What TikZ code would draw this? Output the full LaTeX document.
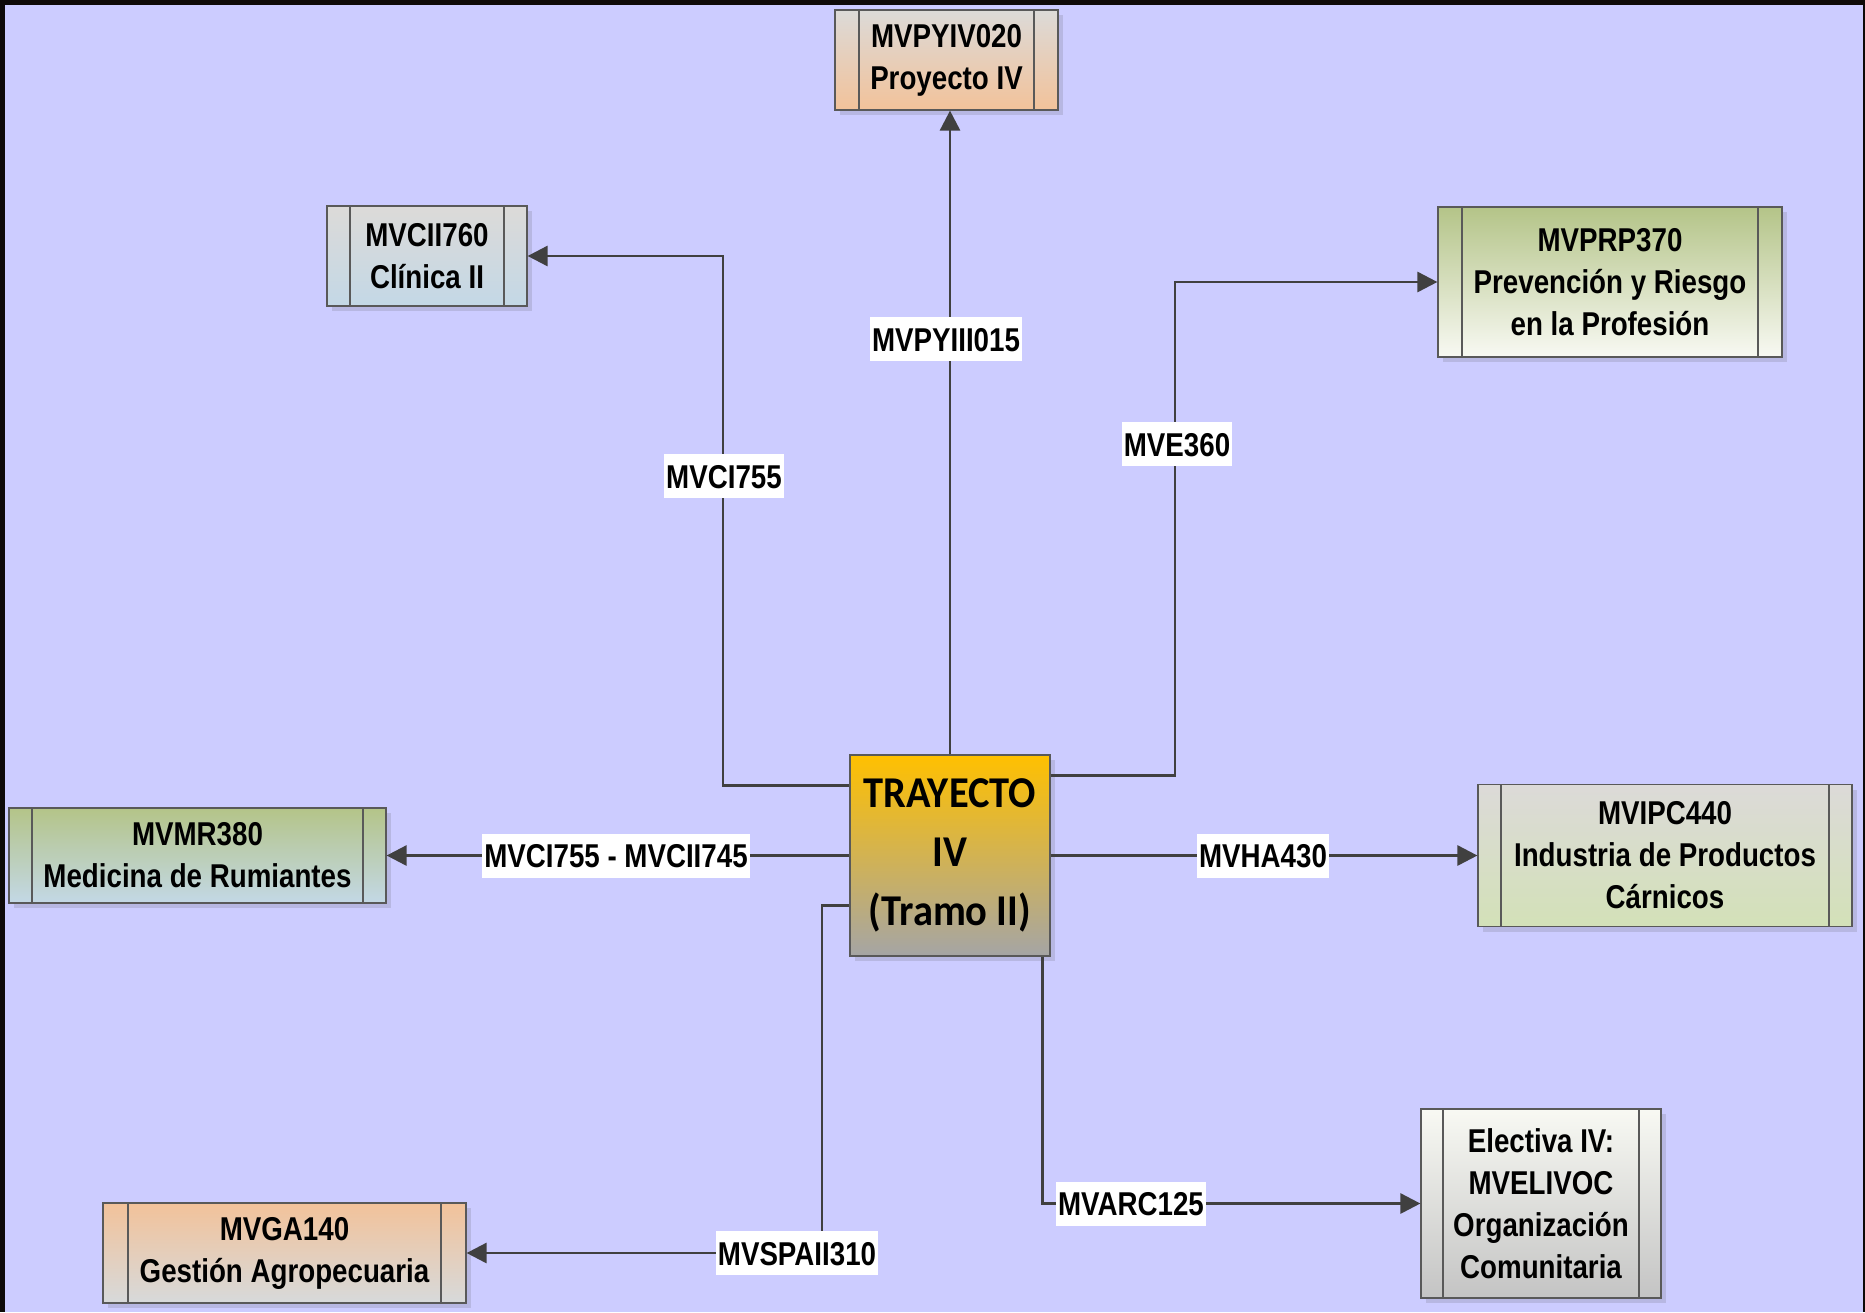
\documentclass[tikz,border=0pt]{standalone}
\usepackage{fontspec}
\setmainfont{Liberation Sans}[FakeStretch=0.84]
\newfontfamily\calib{Carlito}[FakeStretch=0.92]
\usetikzlibrary{shadows,arrows.meta,calc}
\definecolor{bgc}{HTML}{CCCCFF}
\definecolor{framec}{HTML}{0E0A08}
\definecolor{bordc}{HTML}{595959}
\definecolor{linec}{HTML}{404040}
\definecolor{shadc}{HTML}{B7B7E2}
\definecolor{peach}{HTML}{F2C29A}
\definecolor{lgrey}{HTML}{DCDAD8}
\definecolor{lblue}{HTML}{C3D8E6}
\definecolor{olive}{HTML}{B4C488}
\definecolor{offw}{HTML}{F8F9F3}
\definecolor{lgreen}{HTML}{D3E1B8}
\definecolor{midgrey}{HTML}{C4C4C4}
\definecolor{gold}{HTML}{FFC000}
\definecolor{dgrey}{HTML}{A5A5A5}
\tikzset{
  box/.style={draw=bordc, line width=1.2pt, rectangle, align=center,
    font=\bfseries\fontsize{33}{42}\selectfont, inner sep=0pt,
    drop shadow={shadow xshift=5pt, shadow yshift=-5pt, fill=shadc, opacity=1}},
  band/.style={path picture={
    \draw[bordc, line width=1.2pt] ([xshift=#1]path picture bounding box.north west) -- ([xshift=#1]path picture bounding box.south west);
    \draw[bordc, line width=1.2pt] ([xshift=-#1]path picture bounding box.north east) -- ([xshift=-#1]path picture bounding box.south east);}},
  conn/.style={draw=linec, line width=2.8pt, -{Triangle[length=20pt,width=20pt]}},
  lbl/.style={fill=white, font=\bfseries\fontsize{33}{36}\selectfont, inner xsep=2pt, inner ysep=10pt, text height=24pt, text depth=0pt}
}
\begin{document}
\begin{tikzpicture}[x=1pt,y=-1pt]
\useasboundingbox (0,0) rectangle (1865,1312);
\fill[framec] (0,0) rectangle (1865,1312);
\fill[bgc] (5,5) rectangle (1863,1312);

% boxes
\node[box, band=24pt, top color=lgrey, bottom color=peach, minimum width=223pt, minimum height=100pt] (p4) at (946.5,60) {MVPYIV020\\Proyecto IV};
\node[box, band=23pt, top color=lgrey, bottom color=lblue, minimum width=200pt, minimum height=100pt] (c2) at (427,256) {MVCII760\\Clínica II};
\node[box, band=24pt, top color=olive, bottom color=offw, minimum width=344pt, minimum height=150pt] (prp) at (1610,282) {MVPRP370\\Prevención y Riesgo\\en la Profesión};
\node[box, band=23pt, top color=olive, bottom color=lblue, minimum width=377pt, minimum height=95pt] (mr) at (197.5,855.5) {MVMR380\\Medicina de Rumiantes};
\node[box, band=23pt, top color=lgrey, bottom color=lgreen, minimum width=374pt, minimum height=142pt] (ipc) at (1665,855.5) {MVIPC440\\Industria de Productos\\Cárnicos};
\node[box, band=22pt, top color=offw, bottom color=midgrey, minimum width=240pt, minimum height=189pt] (elec) at (1541,1203.5) {Electiva IV:\\MVELIVOC\\Organización\\Comunitaria};
\node[box, band=25pt, top color=peach, bottom color=lgrey!80!lblue, minimum width=363pt, minimum height=100pt] (ga) at (284.5,1253) {MVGA140\\Gestión Agropecuaria};
\node[box, top color=gold, bottom color=dgrey, minimum width=200pt, minimum height=201pt,
  font=\calib\bfseries\fontsize{44}{59}\selectfont] (ctr) at (950,855.5) {\raisebox{-5pt}{TRAYECTO}\\\raisebox{-5pt}{IV}\\\raisebox{-5pt}{(Tramo II)}};

% connector points
\coordinate (s1) at ($(ctr.north west)+(0,31)$);
\coordinate (b1) at (723,256);
\coordinate (s2) at ($(ctr.north east)+(0,21)$);
\coordinate (b2) at (1175,282);
\coordinate (s3) at ($(ctr.north west)+(0,151)$);
\coordinate (b3) at (822,1253);
\coordinate (s4) at ($(ctr.south east)+(-8,0)$);

% connectors
\draw[conn] (ctr.north) -- (ctr.north |- p4.south);
\draw[conn] (s1) -| (b1) -- (c2.east);
\draw[conn] (s2) -| (b2) -- (prp.west);
\draw[conn] (ctr.west) -- (mr.east);
\draw[conn] (ctr.east) -- (ipc.west);
\draw[conn] (s3) -| (b3) -- (ga.east);
\draw[conn] (s4) |- (elec.west);

% labels
\node[lbl] (l1) at (946,339) {MVPYIII015};
\node[lbl] (l2) at (724,476) {MVCI755};
\node[lbl] (l3) at (1177,444) {MVE360};
\node[lbl] (l4) at (616,855.5) {MVCI755 - MVCII745};
\node[lbl] (l5) at (1263,855.5) {MVHA430};
\node[lbl] (l6) at (797,1253) {MVSPAII310};
\node[lbl] (l7) at (1131,1203.5) {MVARC125};
\end{tikzpicture}
\end{document}
